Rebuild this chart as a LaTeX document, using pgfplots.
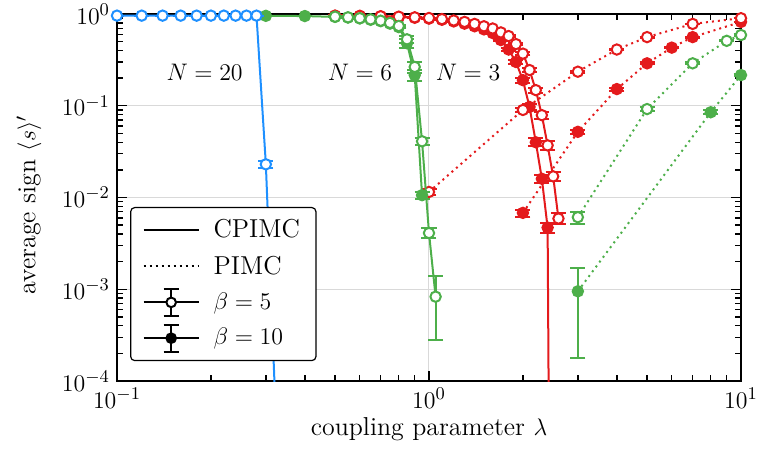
\documentclass[border=0pt]{standalone}
\usepackage{pgfplots}
\pgfplotsset{compat=1.18}
\usetikzlibrary{calc}
\definecolor{cblue}{RGB}{30,144,255}
\definecolor{cgreen}{RGB}{77,175,74}
\definecolor{cred}{RGB}{228,26,28}
\pgfplotsset{
  ser/.style={line width=1bp, mark=*, mark size=2.6bp,
    error bars/.cd, y dir=both, y explicit,
    error bar style={line width=1bp, solid},
    error mark options={rotate=90, mark size=3.75bp, line width=1bp, solid},
    /pgfplots/.cd},
  dots/.style={dash pattern=on 1bp off 2bp},
  legline/.style={legend image code/.code={\draw[black,line width=1bp] (0bp,0bp)--(27.5bp,0bp);}},
  legdot/.style={legend image code/.code={\draw[black,line width=1bp,dash pattern=on 1bp off 2bp] (0bp,0bp)--(27.5bp,0bp);}},
  legopen/.style={legend image code/.code={
    \draw[black,line width=1bp] (0bp,0bp)--(27.5bp,0bp) (13.75bp,-6.7bp)--(13.75bp,6.7bp) (10bp,-6.7bp)--(17.5bp,-6.7bp) (10bp,6.7bp)--(17.5bp,6.7bp);
    \draw[black,line width=1bp,fill=white] (13.75bp,0bp) circle (2.4bp);}},
  legfull/.style={legend image code/.code={
    \draw[black,line width=1bp] (0bp,0bp)--(27.5bp,0bp) (13.75bp,-6.7bp)--(13.75bp,6.7bp) (10bp,-6.7bp)--(17.5bp,-6.7bp) (10bp,6.7bp)--(17.5bp,6.7bp);
    \draw[black,line width=1bp,fill=black] (13.75bp,0bp) circle (2.4bp);}},
}
\begin{document}
\begin{tikzpicture}[font=\fontsize{13}{15.6}\selectfont]
\begin{axis}[
  scale only axis, width=312bp, height=183.5bp,
  xmode=log, ymode=log,
  xmin=0.1, xmax=10, ymin=1e-4, ymax=1,
  clip mode=individual,
  axis line style={line width=0.8bp},
  major tick length=5bp, minor tick length=3bp,
  every tick/.style={black, line width=0.7bp},
  grid=major, major grid style={line width=0.5bp, gray!30},
  xlabel={coupling parameter $\lambda$},
  ylabel={average sign $\langle s\rangle'$},
  xlabel style={at={(axis description cs:0.5,-0.13)}, anchor=center},
  ylabel style={at={(axis description cs:-0.141,0.48)}, anchor=center},
  legend style={at={(axis description cs:0.021,0.054)}, anchor=south west,
    draw=black, line width=0.6bp, rounded corners=2bp, fill=white,
    inner xsep=6bp, inner ysep=4bp, row sep=3.5bp, column sep=5bp,
    font=\fontsize{13}{15.6}\selectfont},
  legend cell align=left,
]
\addlegendimage{legline}\addlegendentry{CPIMC}
\addlegendimage{legdot}\addlegendentry{PIMC}
\addlegendimage{legopen}\addlegendentry{$\beta=5$}
\addlegendimage{legfull}\addlegendentry{$\beta=10$}

% ---------- N = 3 (red) ----------
% CPIMC beta=10
\addplot[ser, cred, mark options={solid, fill=cred}, forget plot] coordinates {
(0.5,0.955)+-(0,0.005) (0.6,0.95)+-(0,0.005) (0.7,0.94)+-(0,0.005) (0.8,0.925)+-(0,0.005)
(0.9,0.91)+-(0,0.005) (1.0,0.89)+-(0,0.006) (1.1,0.865)+-(0,0.006) (1.2,0.83)+-(0,0.007)
(1.3,0.785)+-(0,0.008) (1.4,0.735)+-(0,0.009) (1.5,0.68)+-(0,0.01) (1.6,0.62)+-(0,0.012)
(1.7,0.52)+-(0,0.013) (1.8,0.41)+-(0,0.014) (1.9,0.30)+-(0,0.014) (2.0,0.19)+-(0,0.012)
(2.1,0.097)+-(0,0.008) (2.2,0.040)+-(0,0.004) (2.3,0.016)+-(0,0.0015) (2.4,0.0047)+-(0,0.0006)
};
\addplot[cred, line width=1bp, no markers, forget plot] coordinates {(2.4,0.0047) (2.5,1e-12)};
% CPIMC beta=5
\addplot[ser, cred, mark options={solid, fill=white}, forget plot] coordinates {
(0.5,0.96)+-(0,0.005) (0.6,0.955)+-(0,0.005) (0.7,0.945)+-(0,0.005) (0.8,0.935)+-(0,0.005)
(0.9,0.92)+-(0,0.005) (1.0,0.905)+-(0,0.006) (1.1,0.88)+-(0,0.006) (1.2,0.85)+-(0,0.007)
(1.3,0.82)+-(0,0.008) (1.4,0.78)+-(0,0.009) (1.5,0.735)+-(0,0.01) (1.6,0.695)+-(0,0.011)
(1.7,0.63)+-(0,0.012) (1.8,0.575)+-(0,0.013) (1.9,0.47)+-(0,0.014) (2.0,0.37)+-(0,0.014)
(2.1,0.245)+-(0,0.012) (2.2,0.148)+-(0,0.01) (2.3,0.079)+-(0,0.007) (2.4,0.037)+-(0,0.004)
(2.5,0.017)+-(0,0.002) (2.6,0.0059)+-(0,0.0008)
};
% PIMC beta=10
\addplot[ser, dots, cred, mark options={solid, fill=cred}, forget plot] coordinates {
(2,0.0068)+-(0,0.0006) (3,0.052)+-(0,0.003) (4,0.152)+-(0,0.006) (5,0.29)+-(0,0.008)
(6,0.43)+-(0,0.008) (7,0.56)+-(0,0.008) (10,0.82)+-(0,0.006)
};
% PIMC beta=5
\addplot[ser, dots, cred, mark options={solid, fill=white}, forget plot] coordinates {
(1,0.0115)+-(0,0.0008) (2,0.09)+-(0,0.004) (3,0.235)+-(0,0.006) (4,0.41)+-(0,0.008)
(5,0.56)+-(0,0.008) (7,0.78)+-(0,0.007) (10,0.90)+-(0,0.005)
};

% ---------- N = 6 (green) ----------
% CPIMC beta=10
\addplot[ser, cgreen, mark options={solid, fill=cgreen}, forget plot] coordinates {
(0.3,0.955)+-(0,0.004) (0.4,0.95)+-(0,0.004) (0.5,0.93)+-(0,0.005) (0.55,0.915)+-(0,0.005)
(0.6,0.895)+-(0,0.006) (0.65,0.865)+-(0,0.007) (0.7,0.835)+-(0,0.008) (0.75,0.785)+-(0,0.01)
(0.8,0.72)+-(0,0.02) (0.85,0.48)+-(0,0.05) (0.9,0.216)+-(0,0.03) (0.95,0.0106)+-(0,0.001)
};
% CPIMC beta=5
\addplot[ser, cgreen, mark options={solid, fill=white}, forget plot] coordinates {
(0.5,0.935)+-(0,0.005) (0.55,0.92)+-(0,0.005) (0.6,0.90)+-(0,0.006) (0.65,0.875)+-(0,0.007)
(0.7,0.845)+-(0,0.008) (0.75,0.80)+-(0,0.01) (0.8,0.74)+-(0,0.015) (0.85,0.53)+-(0,0.05)
(0.9,0.265)+-(0,0.035) (0.95,0.041)+-(0,0.004) (1.0,0.0041)+-(0,0.0005) (1.05,0.00083)+-(0,0.00055)
};
% PIMC beta=10
\addplot[ser, dots, cgreen, mark options={solid, fill=cgreen}, forget plot] coordinates {
(3,0.00095)+-(0,0.00077) (8,0.085)+-(0,0.004) (10,0.216)+-(0,0.006)
};
% PIMC beta=5
\addplot[ser, dots, cgreen, mark options={solid, fill=white}, forget plot] coordinates {
(3,0.0061)+-(0,0.0009) (5,0.092)+-(0,0.005) (7,0.29)+-(0,0.008) (9,0.51)+-(0,0.008) (10,0.59)+-(0,0.008)
};

% ---------- N = 20 (blue) ----------
\addplot[cblue, line width=1bp, no markers, forget plot] coordinates {(0.3,0.023) (0.32,9e-5)};
\addplot[ser, cblue, mark options={solid, fill=white}, forget plot] coordinates {
(0.1,0.96)+-(0,0.003) (0.12,0.96)+-(0,0.003) (0.14,0.96)+-(0,0.003) (0.16,0.96)+-(0,0.003)
(0.18,0.96)+-(0,0.003) (0.2,0.96)+-(0,0.003) (0.22,0.96)+-(0,0.003) (0.24,0.96)+-(0,0.003)
(0.26,0.96)+-(0,0.003) (0.28,0.96)+-(0,0.003) (0.3,0.023)+-(0,0.002)
};

\node at (axis cs:0.191,0.233) {$N = 20$};
\node at (axis cs:0.601,0.233) {$N = 6$};
\node at (axis cs:1.334,0.233) {$N = 3$};
\end{axis}
\pgfresetboundingbox
\path[use as bounding box] ($(current axis.south west)+(-58.5bp,-38.5bp)$) rectangle ($(current axis.north east)+(8.5bp,7bp)$);
\end{tikzpicture}
\end{document}
